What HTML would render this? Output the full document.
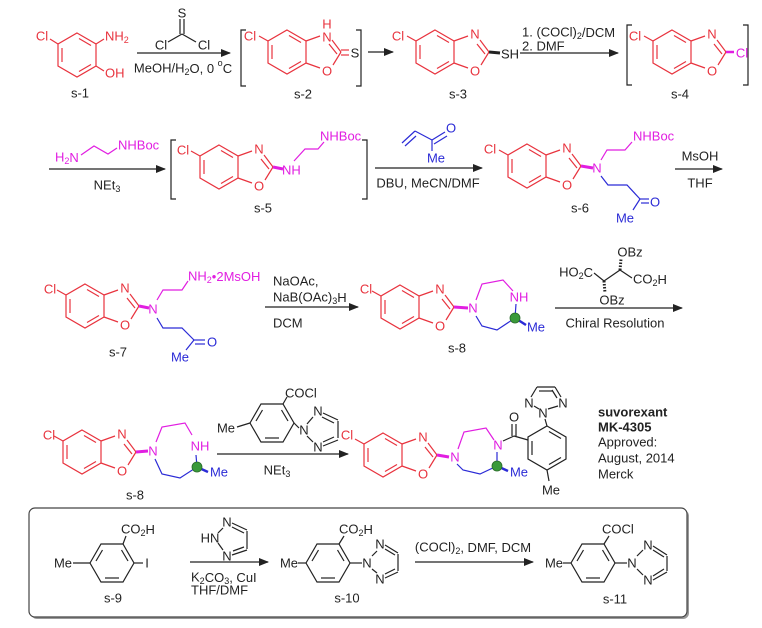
<!DOCTYPE html>
<html><head><meta charset="utf-8"><style>
html,body{margin:0;padding:0;background:#fff;}
svg{display:block;}
text{font-family:"Liberation Sans",sans-serif;font-size:13px;dominant-baseline:central;}
.r{fill:#e8333e}.m{fill:#e11ee1}.b{fill:#2b2bd6}.k{fill:#222}
.bd{font-weight:bold}
</style></head><body>
<svg width="762" height="628" viewBox="0 0 762 628" xmlns="http://www.w3.org/2000/svg">
<defs>
<marker id="ah" markerWidth="10" markerHeight="8" refX="9" refY="4" orient="auto" markerUnits="userSpaceOnUse">
<path d="M0,0 L10,4 L0,8 Z" fill="#222"/></marker>
<g id="hx" fill="none">
<polygon points="0,-22 19,-11 19,11 0,22 -19,11 -19,-11"/>
<line x1="2" y1="-16.5" x2="14" y2="-9.5"/><line x1="-15" y1="-7" x2="-15" y2="7"/><line x1="14" y1="9.5" x2="2" y2="16.5"/>
</g>
<g id="bx" fill="none">
<use href="#hx"/>
<line x1="19" y1="-11" x2="33" y2="-16"/><line x1="19" y1="11" x2="33" y2="16"/>
<line x1="45" y1="-12" x2="54" y2="0"/><line x1="42" y1="-8" x2="50" y2="2"/>
<line x1="46" y1="13" x2="54" y2="0"/>
<line x1="-19" y1="-11" x2="-28" y2="-16"/>
</g>
<g id="hf" fill="none">
<polygon points="-22,0 -11,-19 11,-19 22,0 11,19 -11,19"/>
<line x1="-16" y1="-2" x2="-9.5" y2="-13"/><line x1="9.5" y1="-13" x2="16" y2="-2"/><line x1="7" y1="15" x2="-7" y2="15"/>
</g>
</defs>

<g stroke="#222" stroke-width="1.2" fill="none">
<!-- Row 1 -->
<use href="#hx" x="77" y="55" stroke="#e8333e"/>
<g stroke="#e8333e"><line x1="58" y1="44" x2="50" y2="39"/><line x1="96" y1="44" x2="104" y2="39"/><line x1="96" y1="66" x2="104" y2="71"/></g>
<line x1="180" y1="19" x2="180" y2="34"/><line x1="184" y1="19" x2="184" y2="34"/>
<line x1="182" y1="34" x2="168" y2="42"/><line x1="182" y1="34" x2="196" y2="42"/>
<line x1="137" y1="53" x2="230" y2="53" marker-end="url(#ah)"/>
<path d="M246,30 h-5 v56 h5"/><path d="M356,30 h5 v56 h-5"/>
<use href="#bx" x="287" y="52" stroke="#e8333e"/>
<g stroke="#e8333e"><line x1="341" y1="50" x2="349" y2="50"/><line x1="341" y1="55" x2="349" y2="55"/></g>
<line x1="368" y1="52" x2="393" y2="52" marker-end="url(#ah)"/>
<use href="#bx" x="435" y="52" stroke="#e8333e"/>
<line x1="489" y1="52" x2="500" y2="53" stroke-width="3"/>
<line x1="520" y1="53" x2="618" y2="53" marker-end="url(#ah)"/>
<path d="M632,25 h-5 v60 h5"/><path d="M743,25 h5 v60 h-5"/>
<use href="#bx" x="672" y="52" stroke="#e8333e"/>
<line x1="726" y1="52" x2="734" y2="52" stroke="#e11ee1" stroke-width="2.5"/>

<!-- Row 2 -->
<polyline points="81,155 94,146 108,154 117,148" stroke="#e11ee1"/>
<line x1="49" y1="169" x2="165" y2="169" marker-end="url(#ah)"/>
<path d="M176,140 h-5 v59 h5"/><path d="M362,140 h5 v59 h-5"/>
<use href="#bx" x="219" y="167" stroke="#e8333e"/>
<line x1="273" y1="167" x2="283" y2="169" stroke="#e11ee1" stroke-width="3"/>
<polyline points="294,161 305,149 318,149 324,142" stroke="#e11ee1"/>
<g stroke="#2b2bd6"><line x1="402" y1="143" x2="415" y2="131"/><line x1="405" y1="146" x2="416" y2="136"/>
<line x1="415" y1="131" x2="432" y2="140"/><line x1="432" y1="140" x2="445" y2="132"/><line x1="434" y1="144" x2="447" y2="136"/>
<line x1="432" y1="140" x2="432" y2="151"/></g>
<line x1="375" y1="168" x2="482" y2="168" marker-end="url(#ah)"/>
<use href="#bx" x="527" y="166" stroke="#e8333e"/>
<line x1="581" y1="166" x2="593" y2="168" stroke="#e11ee1" stroke-width="3"/>
<polyline points="601,160 607,150 625,150 632,142" stroke="#e11ee1"/>
<g stroke="#2b2bd6"><polyline points="601,176 608,185 627,185 640,199"/>
<line x1="640" y1="199" x2="649" y2="199"/><line x1="641" y1="203" x2="649" y2="203"/><line x1="640" y1="199" x2="633" y2="210"/></g>
<line x1="675" y1="169" x2="722" y2="169" marker-end="url(#ah)"/>

<!-- Row 3 -->
<use href="#bx" x="85" y="306" stroke="#e8333e"/>
<line x1="139" y1="306" x2="149" y2="308" stroke="#e11ee1" stroke-width="3"/>
<polyline points="157,300 163,290 182,290 188,281" stroke="#e11ee1"/>
<g stroke="#2b2bd6"><polyline points="157,318 163,328 182,328 194,340"/>
<line x1="194" y1="340" x2="205" y2="340"/><line x1="195" y1="344" x2="205" y2="344"/><line x1="194" y1="340" x2="186" y2="350"/></g>
<line x1="265" y1="307" x2="358" y2="307" marker-end="url(#ah)"/>
<use href="#bx" x="400" y="307" stroke="#e8333e"/>
<line x1="454" y1="307" x2="468" y2="308" stroke="#e11ee1" stroke-width="3"/>
<polyline points="476,300 482,284 503,280 513,291" stroke="#e11ee1"/>
<polyline points="516,304 515,318 497,330 482,326 476,316" stroke="#2b2bd6"/>
<line x1="515" y1="318" x2="526" y2="325" stroke="#2b2bd6" stroke-width="2.5"/>
<circle cx="515" cy="318" r="5" fill="#3a9a3a" stroke="#2a6a2a" stroke-width="0.8"/>
<polyline points="594,273 604,281 620,270 632,278"/>
<line x1="620" y1="270" x2="621" y2="259" stroke-dasharray="1.5,1.5" stroke-width="3"/>
<line x1="604" y1="281" x2="605" y2="293" stroke-dasharray="1.5,1.5" stroke-width="3"/>
<line x1="555" y1="308" x2="682" y2="308" marker-end="url(#ah)"/>

<!-- Row 4 -->
<use href="#bx" x="82" y="452" stroke="#e8333e"/>
<line x1="136" y1="452" x2="148" y2="451" stroke="#e11ee1" stroke-width="3"/>
<polyline points="156,442 162,427 185,423 192,435" stroke="#e11ee1"/>
<polyline points="196,455 197,467 180,478 162,474 155,459" stroke="#2b2bd6"/>
<line x1="197" y1="467" x2="208" y2="472" stroke="#2b2bd6" stroke-width="2.5"/>
<circle cx="197" cy="467" r="5" fill="#3a9a3a" stroke="#2a6a2a" stroke-width="0.8"/>
<line x1="217" y1="454" x2="348" y2="454" marker-end="url(#ah)"/>
<use href="#hf" x="272" y="423"/>
<line x1="237" y1="427" x2="250" y2="423"/>
<line x1="283" y1="404" x2="287" y2="397"/>
<line x1="294" y1="423" x2="299" y2="428"/>
<line x1="307" y1="424" x2="313" y2="417"/><line x1="307" y1="436" x2="313" y2="442"/>
<line x1="323" y1="413" x2="338" y2="420"/><line x1="322" y1="417" x2="334" y2="423"/>
<line x1="338" y1="421" x2="338" y2="438"/><line x1="338" y1="440" x2="323" y2="446"/><line x1="334" y1="437" x2="323" y2="442"/>

<use href="#bx" x="383" y="455" stroke="#e8333e"/>
<line x1="437" y1="455" x2="449" y2="457" stroke="#e11ee1" stroke-width="3"/>
<polyline points="458,449 464,432 486,428 494,440" stroke="#e11ee1"/>
<polyline points="497,452 497,466 480,474 463,470 457,464" stroke="#2b2bd6"/>
<line x1="497" y1="466" x2="508" y2="471" stroke="#2b2bd6" stroke-width="2.5"/>
<circle cx="497" cy="466" r="5" fill="#3a9a3a" stroke="#2a6a2a" stroke-width="0.8"/>
<line x1="503" y1="441" x2="514" y2="436"/>
<line x1="512" y1="436" x2="512" y2="424"/><line x1="516" y1="436" x2="516" y2="424"/>
<line x1="514" y1="436" x2="528" y2="440"/>
<use href="#hx" x="547" y="448"/>
<line x1="547" y1="426" x2="545" y2="419"/>
<line x1="539" y1="409" x2="534" y2="406"/><line x1="548" y1="409" x2="558" y2="406"/>
<line x1="531" y1="397" x2="537" y2="387"/><line x1="537" y1="387" x2="555" y2="387"/><line x1="539" y1="391" x2="553" y2="391"/>
<line x1="555" y1="387" x2="561" y2="397"/><line x1="552" y1="390" x2="557" y2="398"/>
<line x1="547" y1="470" x2="549" y2="481"/>

<!-- Box -->
<rect x="31" y="510" width="658" height="109" rx="6" fill="#999" stroke="none"/>
<rect x="29" y="508" width="658" height="109" rx="6" fill="#fff" stroke="#444"/>
<use href="#hf" x="112" y="563"/>
<line x1="73" y1="563" x2="90" y2="563"/>
<line x1="123" y1="544" x2="126" y2="536"/>
<line x1="134" y1="563" x2="143" y2="563"/>
<line x1="190" y1="562" x2="268" y2="562" marker-end="url(#ah)"/>
<line x1="218" y1="533" x2="223" y2="528"/><line x1="218" y1="543" x2="223" y2="550"/>
<line x1="232" y1="523" x2="247" y2="530"/><line x1="232" y1="527" x2="244" y2="533"/>
<line x1="247" y1="531" x2="247" y2="549"/>
<line x1="247" y1="550" x2="232" y2="555"/><line x1="244" y1="547" x2="233" y2="551"/>
<use href="#hf" x="328" y="563"/>
<line x1="298" y1="563" x2="306" y2="563"/>
<line x1="339" y1="544" x2="344" y2="536"/>
<line x1="350" y1="563" x2="362" y2="563"/>
<line x1="372" y1="556" x2="377" y2="551"/><line x1="372" y1="569" x2="377" y2="573"/>
<line x1="385" y1="545" x2="398" y2="553"/><line x1="385" y1="549" x2="395" y2="555"/>
<line x1="398" y1="554" x2="398" y2="571"/>
<line x1="398" y1="572" x2="385" y2="578"/><line x1="395" y1="569" x2="385" y2="574"/>
<line x1="415" y1="562" x2="533" y2="562" marker-end="url(#ah)"/>
<use href="#hf" x="593" y="563"/>
<line x1="563" y1="563" x2="571" y2="563"/>
<line x1="604" y1="544" x2="609" y2="536"/>
<line x1="615" y1="563" x2="627" y2="563"/>
<line x1="637" y1="556" x2="643" y2="550"/><line x1="637" y1="569" x2="643" y2="575"/>
<line x1="653" y1="546" x2="667" y2="555"/><line x1="653" y1="550" x2="664" y2="557"/>
<line x1="667" y1="556" x2="667" y2="571"/>
<line x1="667" y1="572" x2="653" y2="580"/><line x1="664" y1="569" x2="653" y2="576"/>
</g>

<!-- Text -->
<g>
<text class="r" x="42" y="36" text-anchor="middle">Cl</text>
<text class="r" x="105" y="36">NH<tspan font-size="9" dy="4">2</tspan></text>
<text class="r" x="105" y="73">OH</text>
<text class="k" x="80" y="93" text-anchor="middle">s-1</text>
<text class="k" x="182" y="13" text-anchor="middle">S</text>
<text class="k" x="161" y="45" text-anchor="middle">Cl</text>
<text class="k" x="204" y="45" text-anchor="middle">Cl</text>
<text class="k" x="183" y="68" text-anchor="middle">MeOH/H<tspan font-size="9" dy="4">2</tspan><tspan dy="-4">O, 0 </tspan><tspan font-size="9" dy="-5">o</tspan><tspan dy="5">C</tspan></text>
<text class="r" x="250" y="36" text-anchor="middle">Cl</text>
<text class="r" x="327" y="24" text-anchor="middle">H</text>
<text class="r" x="327" y="37" text-anchor="middle">N</text>
<text class="r" x="327" y="71" text-anchor="middle">O</text>
<text class="k" x="355" y="53" text-anchor="middle">S</text>
<text class="k" x="303" y="94" text-anchor="middle">s-2</text>
<text class="r" x="398" y="36" text-anchor="middle">Cl</text>
<text class="r" x="475" y="34" text-anchor="middle">N</text>
<text class="r" x="475" y="71" text-anchor="middle">O</text>
<text class="k" x="501" y="54">SH</text>
<text class="k" x="458" y="94" text-anchor="middle">s-3</text>
<text class="k" x="522" y="32">1. (COCl)<tspan font-size="9" dy="4">2</tspan><tspan dy="-4">/DCM</tspan></text>
<text class="k" x="522" y="46">2. DMF</text>
<text class="r" x="635" y="36" text-anchor="middle">Cl</text>
<text class="r" x="712" y="34" text-anchor="middle">N</text>
<text class="r" x="712" y="71" text-anchor="middle">O</text>
<text class="m" x="742" y="53" text-anchor="middle">Cl</text>
<text class="k" x="680" y="94" text-anchor="middle">s-4</text>

<text class="m" x="55" y="157">H<tspan font-size="9" dy="4">2</tspan><tspan dy="-4">N</tspan></text>
<text class="m" x="118" y="145">NHBoc</text>
<text class="k" x="107" y="185" text-anchor="middle">NEt<tspan font-size="9" dy="4">3</tspan></text>
<text class="r" x="183" y="150" text-anchor="middle">Cl</text>
<text class="r" x="259" y="149" text-anchor="middle">N</text>
<text class="r" x="259" y="186" text-anchor="middle">O</text>
<text class="m" x="282" y="170">NH</text>
<text class="m" x="320" y="136">NHBoc</text>
<text class="k" x="263" y="208" text-anchor="middle">s-5</text>
<text class="b" x="451" y="128" text-anchor="middle">O</text>
<text class="b" x="436" y="158" text-anchor="middle">Me</text>
<text class="k" x="428" y="183" text-anchor="middle">DBU, MeCN/DMF</text>
<text class="r" x="490" y="149" text-anchor="middle">Cl</text>
<text class="r" x="567" y="148" text-anchor="middle">N</text>
<text class="r" x="567" y="185" text-anchor="middle">O</text>
<text class="m" x="597" y="168" text-anchor="middle">N</text>
<text class="m" x="633" y="136">NHBoc</text>
<text class="b" x="655" y="202" text-anchor="middle">O</text>
<text class="b" x="625" y="218" text-anchor="middle">Me</text>
<text class="k" x="580" y="208" text-anchor="middle">s-6</text>
<text class="k" x="700" y="156" text-anchor="middle">MsOH</text>
<text class="k" x="700" y="183" text-anchor="middle">THF</text>

<text class="r" x="50" y="289" text-anchor="middle">Cl</text>
<text class="r" x="125" y="288" text-anchor="middle">N</text>
<text class="r" x="125" y="325" text-anchor="middle">O</text>
<text class="m" x="153" y="309" text-anchor="middle">N</text>
<text class="m" x="188" y="276">NH<tspan font-size="9" dy="4">2</tspan><tspan dy="-4">•2MsOH</tspan></text>
<text class="b" x="212" y="342" text-anchor="middle">O</text>
<text class="b" x="180" y="357" text-anchor="middle">Me</text>
<text class="k" x="118" y="352" text-anchor="middle">s-7</text>
<text class="k" x="273" y="281">NaOAc,</text>
<text class="k" x="273" y="297">NaB(OAc)<tspan font-size="9" dy="4">3</tspan><tspan dy="-4">H</tspan></text>
<text class="k" x="273" y="323">DCM</text>
<text class="r" x="366" y="289" text-anchor="middle">Cl</text>
<text class="r" x="440" y="289" text-anchor="middle">N</text>
<text class="r" x="440" y="326" text-anchor="middle">O</text>
<text class="m" x="473" y="308" text-anchor="middle">N</text>
<text class="m" x="519" y="297" text-anchor="middle">NH</text>
<text class="b" x="536" y="327" text-anchor="middle">Me</text>
<text class="k" x="457" y="348" text-anchor="middle">s-8</text>
<text class="k" x="593" y="272" text-anchor="end">HO<tspan font-size="9" dy="4">2</tspan><tspan dy="-4">C</tspan></text>
<text class="k" x="633" y="279">CO<tspan font-size="9" dy="4">2</tspan><tspan dy="-4">H</tspan></text>
<text class="k" x="630" y="252" text-anchor="middle">OBz</text>
<text class="k" x="612" y="300" text-anchor="middle">OBz</text>
<text class="k" x="615" y="323" text-anchor="middle">Chiral Resolution</text>

<text class="r" x="49" y="435" text-anchor="middle">Cl</text>
<text class="r" x="122" y="434" text-anchor="middle">N</text>
<text class="r" x="122" y="471" text-anchor="middle">O</text>
<text class="m" x="153" y="451" text-anchor="middle">N</text>
<text class="m" x="200" y="446" text-anchor="middle">NH</text>
<text class="b" x="219" y="472" text-anchor="middle">Me</text>
<text class="k" x="135" y="495" text-anchor="middle">s-8</text>
<text class="k" x="285" y="393">COCl</text>
<text class="k" x="226" y="428" text-anchor="middle">Me</text>
<text class="k" x="304" y="430" text-anchor="middle">N</text>
<text class="k" x="318" y="411" text-anchor="middle">N</text>
<text class="k" x="318" y="447" text-anchor="middle">N</text>
<text class="k" x="277" y="470" text-anchor="middle">NEt<tspan font-size="9" dy="4">3</tspan></text>
<text class="r" x="347" y="435" text-anchor="middle">Cl</text>
<text class="r" x="423" y="437" text-anchor="middle">N</text>
<text class="r" x="423" y="474" text-anchor="middle">O</text>
<text class="m" x="455" y="457" text-anchor="middle">N</text>
<text class="m" x="498" y="445" text-anchor="middle">N</text>
<text class="b" x="519" y="472" text-anchor="middle">Me</text>
<text class="k" x="514" y="417" text-anchor="middle">O</text>
<text class="k" x="543" y="413" text-anchor="middle">N</text>
<text class="k" x="529" y="403" text-anchor="middle">N</text>
<text class="k" x="563" y="403" text-anchor="middle">N</text>
<text class="k" x="551" y="490" text-anchor="middle">Me</text>
<text class="k bd" x="598" y="412">suvorexant</text>
<text class="k bd" x="598" y="427">MK-4305</text>
<text class="k" x="598" y="442">Approved:</text>
<text class="k" x="598" y="458">August, 2014</text>
<text class="k" x="598" y="474">Merck</text>

<text class="k" x="63" y="563" text-anchor="middle">Me</text>
<text class="k" x="121" y="529">CO<tspan font-size="9" dy="4">2</tspan><tspan dy="-4">H</tspan></text>
<text class="k" x="147" y="563" text-anchor="middle">I</text>
<text class="k" x="113" y="598" text-anchor="middle">s-9</text>
<text class="k" x="210" y="538" text-anchor="middle">HN</text>
<text class="k" x="227" y="522" text-anchor="middle">N</text>
<text class="k" x="227" y="556" text-anchor="middle">N</text>
<text class="k" x="191" y="577">K<tspan font-size="9" dy="4">2</tspan><tspan dy="-4">CO</tspan><tspan font-size="9" dy="4">3</tspan><tspan dy="-4">, CuI</tspan></text>
<text class="k" x="191" y="590">THF/DMF</text>
<text class="k" x="289" y="563" text-anchor="middle">Me</text>
<text class="k" x="339" y="529">CO<tspan font-size="9" dy="4">2</tspan><tspan dy="-4">H</tspan></text>
<text class="k" x="367" y="563" text-anchor="middle">N</text>
<text class="k" x="380" y="544" text-anchor="middle">N</text>
<text class="k" x="380" y="579" text-anchor="middle">N</text>
<text class="k" x="347" y="598" text-anchor="middle">s-10</text>
<text class="k" x="473" y="547" text-anchor="middle">(COCl)<tspan font-size="9" dy="4">2</tspan><tspan dy="-4">, DMF, DCM</tspan></text>
<text class="k" x="554" y="563" text-anchor="middle">Me</text>
<text class="k" x="602" y="529">COCl</text>
<text class="k" x="632" y="563" text-anchor="middle">N</text>
<text class="k" x="648" y="545" text-anchor="middle">N</text>
<text class="k" x="648" y="580" text-anchor="middle">N</text>
<text class="k" x="615" y="599" text-anchor="middle">s-11</text>
</g>
</svg>
</body></html>
